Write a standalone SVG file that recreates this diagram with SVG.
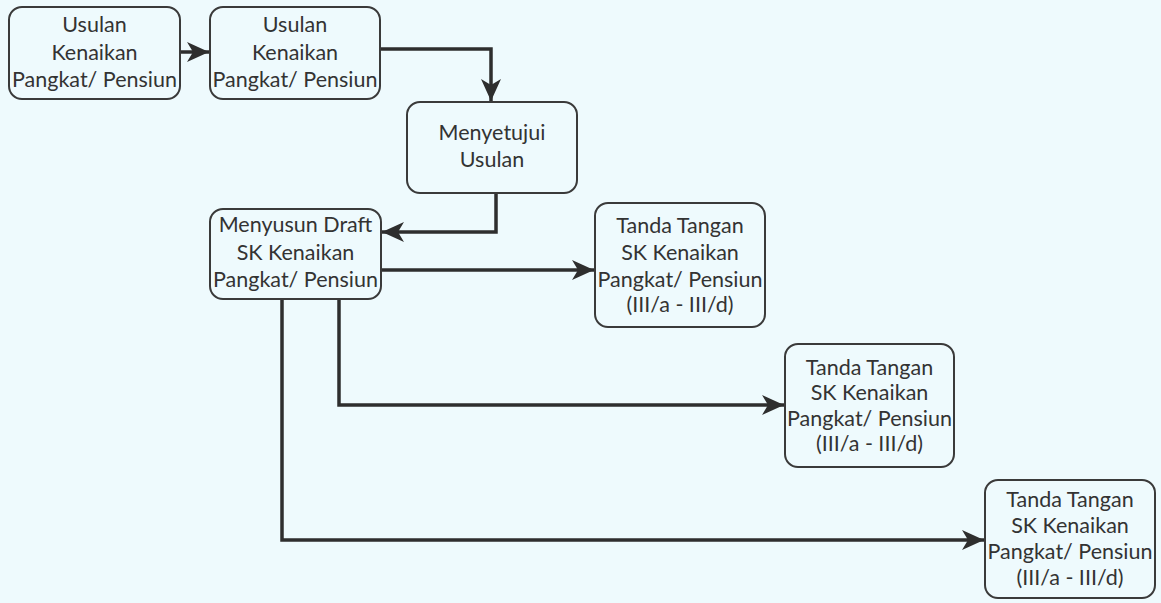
<svg xmlns="http://www.w3.org/2000/svg" width="1161" height="603" viewBox="0 0 1161 603">
<defs>
<style>
.box{fill:none;stroke:#3a3a3a;stroke-width:2}
.t{font-family:Lato,"Open Sans","Liberation Sans",sans-serif;font-size:21.5px;fill:#333333;text-anchor:middle}
.c{fill:none;stroke:#2e2e2e;stroke-width:3.5;stroke-linejoin:miter}
</style>
<marker id="ah" markerUnits="userSpaceOnUse" markerWidth="24" markerHeight="20" refX="22" refY="10" orient="auto">
<path d="M0,0 L22,10 L0,20 L6,10 Z" fill="#2e2e2e"/>
</marker>
</defs>
<rect width="1161" height="603" fill="#eefafd"/>
<g id="connectors">
<path class="c" d="M180,52 H209" marker-end="url(#ah)"/>
<path class="c" d="M380,49 H491 V101" marker-end="url(#ah)"/>
<path class="c" d="M496,193 V232 H382" marker-end="url(#ah)"/>
<path class="c" d="M382,270 H594" marker-end="url(#ah)"/>
<path class="c" d="M339,299 V405 H784" marker-end="url(#ah)"/>
<path class="c" d="M282,299 V540 H984" marker-end="url(#ah)"/>
</g>
<g id="n1">
<rect class="box" x="9" y="7" width="171" height="92" rx="13"/>
<text class="t" x="94.5" y="32">Usulan</text>
<text class="t" x="94.5" y="60">Kenaikan</text>
<text class="t" x="94.5" y="87">Pangkat/ Pensiun</text>
</g>
<g id="n2">
<rect class="box" x="210" y="7" width="170" height="92" rx="13"/>
<text class="t" x="295" y="32">Usulan</text>
<text class="t" x="295" y="60">Kenaikan</text>
<text class="t" x="295" y="87">Pangkat/ Pensiun</text>
</g>
<g id="n3">
<rect class="box" x="407" y="102" width="170" height="91" rx="13"/>
<text class="t" x="492" y="140">Menyetujui</text>
<text class="t" x="492" y="167">Usulan</text>
</g>
<g id="n4">
<rect class="box" x="210" y="209" width="171" height="90" rx="13"/>
<text class="t" x="295.5" y="232">Menyusun Draft</text>
<text class="t" x="295.5" y="260">SK Kenaikan</text>
<text class="t" x="295.5" y="287">Pangkat/ Pensiun</text>
</g>
<g id="n5">
<rect class="box" x="595" y="203" width="170" height="124" rx="13"/>
<text class="t" x="680" y="233">Tanda Tangan</text>
<text class="t" x="680" y="260">SK Kenaikan</text>
<text class="t" x="680" y="287">Pangkat/ Pensiun</text>
<text class="t" x="680" y="312">(III/a - III/d)</text>
</g>
<g id="n6">
<rect class="box" x="785" y="344" width="169" height="123" rx="13"/>
<text class="t" x="869.5" y="375">Tanda Tangan</text>
<text class="t" x="869.5" y="400">SK Kenaikan</text>
<text class="t" x="869.5" y="426">Pangkat/ Pensiun</text>
<text class="t" x="869.5" y="451">(III/a - III/d)</text>
</g>
<g id="n7">
<rect class="box" x="985" y="480" width="170" height="118" rx="13"/>
<text class="t" x="1070" y="507">Tanda Tangan</text>
<text class="t" x="1070" y="533">SK Kenaikan</text>
<text class="t" x="1070" y="559">Pangkat/ Pensiun</text>
<text class="t" x="1070" y="585">(III/a - III/d)</text>
</g>
</svg>
